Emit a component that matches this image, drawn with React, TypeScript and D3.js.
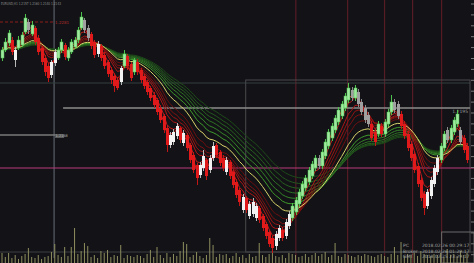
import React from 'react';
import * as d3 from 'd3';

const opens = [12245,12253,12260,12263,12243,12255,12258,12271,12281,12269,12275,12265,12255,12245,12237,12228,12240,12245,12253,12258,12245,12251,12256,12263,12275,12283,12275,12269,12261,12249,12257,12248,12241,12233,12227,12223,12221,12237,12247,12239,12231,12241,12233,12227,12221,12215,12208,12203,12195,12187,12175,12158,12161,12167,12175,12160,12168,12158,12148,12138,12128,12135,12143,12133,12145,12158,12151,12145,12131,12141,12131,12121,12113,12093,12105,12087,12089,12085,12095,12087,12079,12071,12065,12057,12065,12073,12067,12077,12085,12091,12099,12107,12115,12121,12127,12135,12145,12137,12147,12157,12165,12173,12181,12187,12195,12203,12213,12205,12211,12201,12195,12188,12179,12171,12169,12177,12169,12179,12191,12201,12199,12189,12179,12169,12159,12149,12137,12123,12109,12097,12107,12119,12131,12143,12155,12173,12163,12171,12179,12173,12165,12157];
const closes = [12253,12261,12270,12251,12253,12263,12268,12285,12273,12278,12261,12251,12241,12231,12225,12241,12251,12253,12261,12246,12253,12261,12263,12273,12286,12273,12265,12257,12248,12259,12245,12237,12229,12223,12217,12215,12235,12249,12237,12225,12243,12231,12223,12217,12211,12205,12198,12191,12183,12173,12158,12168,12171,12177,12163,12170,12155,12143,12133,12125,12138,12147,12127,12145,12157,12148,12140,12135,12143,12127,12118,12108,12101,12106,12093,12099,12101,12097,12083,12075,12067,12059,12055,12069,12075,12065,12081,12089,12097,12103,12111,12119,12125,12133,12139,12145,12137,12151,12161,12171,12177,12185,12193,12199,12207,12215,12205,12215,12199,12191,12183,12179,12165,12161,12179,12169,12181,12191,12201,12193,12187,12177,12167,12155,12145,12133,12119,12105,12095,12111,12123,12135,12145,12157,12169,12163,12175,12183,12189,12161,12153,12143];
const highs = [12256,12265,12273,12266,12256,12267,12271,12289,12284,12282,12277,12268,12257,12248,12240,12243,12254,12256,12264,12260,12256,12264,12266,12276,12291,12285,12278,12271,12263,12262,12259,12251,12243,12236,12230,12226,12237,12253,12249,12241,12245,12244,12235,12229,12223,12217,12211,12205,12198,12189,12178,12171,12174,12180,12177,12173,12170,12160,12151,12140,12141,12153,12145,12148,12161,12160,12153,12148,12146,12143,12133,12124,12115,12109,12107,12102,12105,12100,12097,12089,12081,12073,12067,12072,12078,12076,12084,12092,12100,12106,12114,12122,12128,12136,12142,12148,12148,12154,12164,12174,12180,12188,12196,12202,12210,12220,12216,12218,12214,12204,12198,12191,12182,12174,12182,12180,12184,12194,12208,12204,12202,12192,12182,12172,12162,12152,12140,12126,12112,12114,12126,12138,12148,12160,12172,12176,12178,12186,12193,12176,12168,12160];
const lows = [12242,12251,12257,12248,12236,12253,12256,12269,12269,12267,12258,12248,12238,12227,12221,12225,12237,12243,12250,12243,12242,12249,12254,12260,12273,12270,12262,12254,12245,12246,12242,12234,12226,12219,12211,12213,12218,12235,12233,12222,12228,12228,12220,12214,12208,12202,12195,12188,12180,12170,12151,12155,12158,12164,12160,12157,12152,12140,12130,12118,12125,12132,12123,12130,12142,12145,12137,12132,12128,12124,12115,12105,12097,12090,12090,12084,12086,12082,12080,12072,12064,12056,12050,12053,12062,12062,12064,12074,12082,12088,12096,12104,12112,12118,12124,12132,12134,12134,12144,12154,12162,12170,12178,12184,12192,12200,12202,12202,12196,12188,12180,12176,12162,12157,12166,12166,12166,12176,12188,12190,12184,12174,12164,12152,12142,12130,12116,12102,12088,12094,12104,12116,12128,12140,12152,12160,12160,12168,12176,12158,12150,12140];
const volumes = [1000,600,1000,500,800,400,700,900,1500,600,500,800,400,600,700,1100,1900,800,600,1600,700,1600,3500,900,1200,2000,1700,600,800,500,1200,1000,1300,600,800,700,1800,500,800,700,600,800,700,500,900,1300,600,1600,800,500,1000,600,900,700,1200,2100,1900,600,800,1100,700,500,800,2500,1800,600,900,800,900,500,700,1000,600,800,500,900,600,700,2000,800,600,900,1200,700,600,800,500,1000,900,800,600,700,900,600,800,1000,700,900,1100,600,800,2000,700,600,900,800,700,600,800,700,900,800,700,600,800,900,700,600,900,1600,800,2100,700,900,800,1000,700,1200,900,800,700,900,800,1000,600,1400,800,900,700,1200,800,1000];

const shortPeriods = [3, 5, 8, 10, 12, 15];
const shortColors = ['#d82020', '#c21a1a', '#aa1616', '#931313', '#7e1111', '#6a0f0f'];
const longPeriods = [25, 29, 33, 37, 41, 46];
const longColors = ['#3f9a2c', '#358428', '#2d7223', '#27621f', '#22561c', '#1d4a18'];
const signalPeriod = 20;

const sessionMarks = [89.1, 104.8, 116, 124.5, 133.3];
const cursorMark = 15.8;
const boxStart = 73.9;
const boxTop = 12223;
const fullLevel = 12220;
const midLevel = 12195;
const leftLevel = 12168;
const pinkLevel = 12135;
const redLevel = 12281;
const symbol = 'EURUSD,H1';
const timeRows = [
  ['PC', '2018.02.26 00:29:17'],
  ['Broker', '2018.02.26 01:29:17'],
  ['GMT', '2018.02.25 23:29:17'],
];

const W = 474;
const H = 263;
const R = 470;
const SEP = 252;

function ema(vals: number[], n: number) {
  const k = 2 / (n + 1);
  let e = vals[0];
  return vals.map((v, i) => (e = i === 0 ? v : v * k + e * (1 - k)));
}

const fmt = (p: number) => (p / 10000).toFixed(4);

export default function App() {
  const n = closes.length;
  const x = d3.scaleLinear().domain([0, n - 1]).range([2, 467]);
  const y = d3.scaleLinear().domain([12040, 12303]).range([H, 0]);
  const v = d3.scaleLinear().domain([0, 4000]).range([H, H - 40]);
  const line = d3.line<number>().x((_, i) => x(i)).y((d) => y(d));

  const signal = ema(closes, signalPeriod);
  const shorts = shortPeriods.map((p) => ema(closes, p));
  const longs = longPeriods.map((p) => ema(closes, p));

  const last = n - 1;
  const header = `${symbol}  ${fmt(opens[last])} ${fmt(highs[last])} ${fmt(lows[last])} ${fmt(closes[last])}`;
  const ticks = d3.range(0, 24).map((k) => 4 + k * 10.9);

  return (
    <svg width={W} height={H} style={{ position: 'fixed', left: 0, top: 0, background: '#131317' }}
      fontFamily="DejaVu Sans, sans-serif">
      <defs>
        <clipPath id="plot"><rect x={0} y={0} width={R} height={SEP} /></clipPath>
      </defs>
      <rect x={0} y={0} width={W} height={H} fill="#131317" />

      {sessionMarks.map((m, i) => (
        <line key={i} x1={x(m)} x2={x(m)} y1={0} y2={H} stroke="#561c25" strokeWidth={1.2} />
      ))}
      <line x1={x(cursorMark)} x2={x(cursorMark)} y1={0} y2={H - 5} stroke="#50555b" strokeWidth={1.4} />

      <line x1={0} x2={R} y1={y(fullLevel)} y2={y(fullLevel)} stroke="#34403f" strokeWidth={1} />
      <rect x={x(boxStart)} y={y(boxTop)} width={R - x(boxStart)} height={SEP - y(boxTop)}
        fill="none" stroke="#4a4a4e" strokeWidth={1} />
      <line x1={0} x2={W} y1={SEP} y2={SEP} stroke="#3a3e40" strokeWidth={1} />
      <line x1={x(cursorMark) + 9} x2={R} y1={y(midLevel)} y2={y(midLevel)} stroke="#8c8c8c" strokeWidth={1.3} />
      <text x={R - 2} y={y(midLevel) + 5} fontSize={4.5} fill="#9a9a9a" textAnchor="end">{fmt(midLevel)}</text>
      <line x1={0} x2={x(cursorMark) + 9} y1={y(leftLevel)} y2={y(leftLevel)} stroke="#7a7a7a" strokeWidth={1.3} />
      <rect x={x(cursorMark) + 1} y={y(leftLevel) - 1} width={9} height={4} fill="#5a5a5a" />
      <text x={x(cursorMark) + 1.5} y={y(leftLevel) + 2.4} fontSize={3.5} fill="#bbbbbb">{fmt(leftLevel)}</text>
      <line x1={0} x2={W} y1={y(pinkLevel)} y2={y(pinkLevel)} stroke="#b83a78" strokeWidth={1.2} />
      <line x1={0} x2={x(cursorMark)} y1={y(redLevel)} y2={y(redLevel)} stroke="#8e1c1c" strokeWidth={1} strokeDasharray="3,2" />
      <text x={x(cursorMark) + 1} y={y(redLevel) + 2} fontSize={4} fill="#b02a2a">{fmt(redLevel)}</text>
      <rect x={x(sessionMarks[4])} y={H - 31} width={W - x(sessionMarks[4])} height={31} fill="none" stroke="#6a6a6a" strokeWidth={1} />

      {volumes.map((vol, i) => (
        <line key={i} x1={x(i)} x2={x(i)} y1={H} y2={v(vol)} stroke="#8e8e5e" strokeWidth={1} />
      ))}

      <g clipPath="url(#plot)" fill="none">
        {longs.map((s, i) => (
          <path key={'l' + i} d={line(s) || ''} stroke={longColors[i]} strokeWidth={1} />
        ))}
        {shorts.map((s, i) => (
          <path key={'s' + i} d={line(s) || ''} stroke={shortColors[i]} strokeWidth={1} />
        ))}
        <path d={line(signal) || ''} stroke="#d9d46a" strokeWidth={1} />
      </g>

      {closes.map((c, i) => {
        const o = opens[i];
        const up = c >= o;
        const above = c >= signal[i];
        const fill = up ? (above ? '#9fe89f' : '#f2f2f2') : (above ? '#a0a0a0' : '#e01a1a');
        const wick = up ? (above ? '#4cc24c' : '#b8b8b8') : (above ? '#8a8a8a' : '#c01616');
        const cx = Math.round(x(i));
        const top = y(Math.max(o, c));
        const bot = y(Math.min(o, c));
        return (
          <g key={i}>
            <line x1={cx + 0.5} x2={cx + 0.5} y1={y(highs[i])} y2={y(lows[i])} stroke={wick} strokeWidth={1} />
            <rect x={cx - 1} y={top} width={3} height={Math.max(1, bot - top)} fill={fill}
              stroke={up && above ? '#4cc24c' : 'none'} strokeWidth={0.5} />
          </g>
        );
      })}

      {ticks.map((t, i) => (
        <line key={i} x1={R + 1} x2={W} y1={t} y2={t} stroke="#7a7a7a" strokeWidth={1} />
      ))}

      <text x={1} y={4.5} fontSize={4} fill="#8a8a8a" textLength={60} lengthAdjust="spacingAndGlyphs">{header}</text>
      {timeRows.map((r, i) => (
        <g key={i} fontSize={4.5} fill="#a0a0a0">
          <text x={403} y={247 + i * 5.5}>{r[0]}</text>
          <text x={422} y={247 + i * 5.5}>{r[1]}</text>
        </g>
      ))}
    </svg>
  );
}
